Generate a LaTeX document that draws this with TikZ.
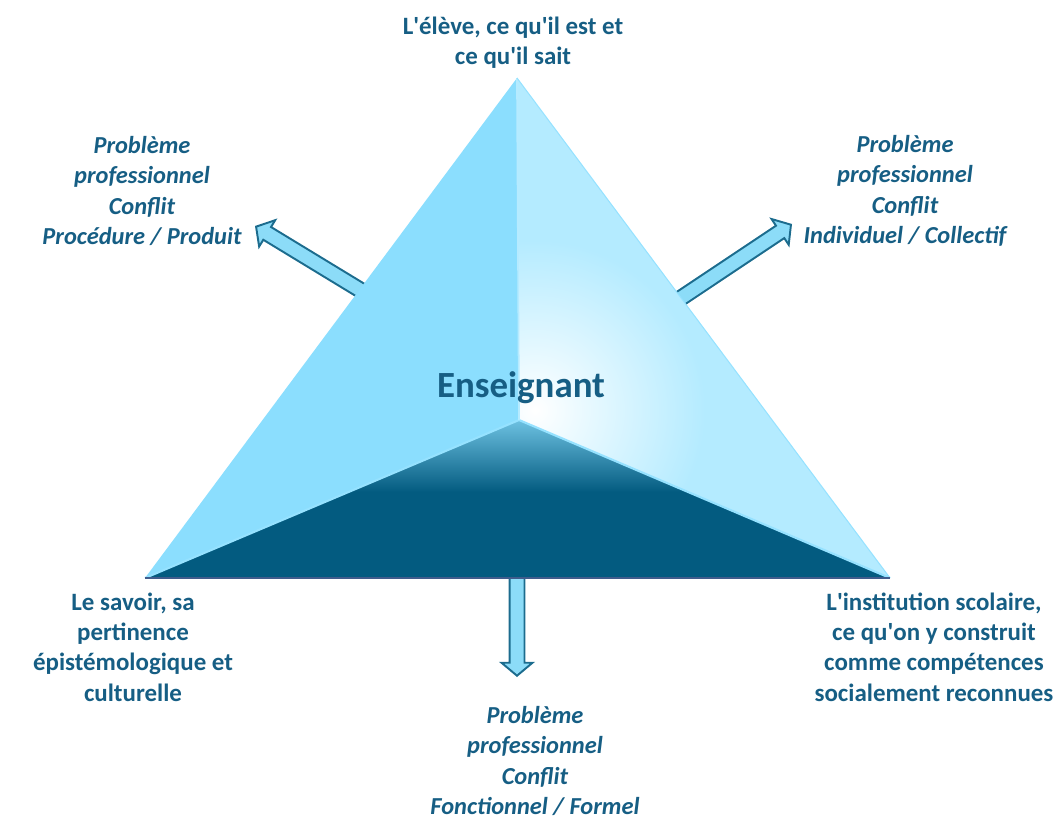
\documentclass[tikz,border=0pt]{standalone}
\usepackage{fontspec}
\setmainfont{Carlito}
\usepackage{tikz}
\usetikzlibrary{shapes.arrows}

\definecolor{schrift}{RGB}{22,94,132}
\definecolor{linksblau}{RGB}{139,222,254}
\definecolor{rechtsblau}{RGB}{180,235,255}
\definecolor{kante}{RGB}{150,226,255}
\definecolor{dunkelblau}{RGB}{3,91,128}
\definecolor{mittelblau}{RGB}{112,196,228}
\definecolor{grundlinie}{RGB}{64,92,140}
\definecolor{pfeilrand}{RGB}{28,108,142}
\definecolor{pfeilblau}{RGB}{140,220,248}

\tikzset{
    ecke/.style={font=\fontsize{14.2}{17.3}\selectfont\bfseries, text=schrift, align=center, inner sep=0pt},
    problem/.style={font=\fontsize{13.9}{17.3}\selectfont\bfseries\itshape, text=schrift, align=center, inner sep=0pt},
    pfeil/.style={single arrow, draw=pfeilrand, fill=pfeilblau, line width=1.1pt, inner xsep=0pt, inner ysep=.13cm,
        single arrow head extend=.16cm, single arrow tip angle=100, anchor=tip}
}

\begin{document}
\begin{tikzpicture}[x=.02cm, y=-.02cm, line width=1pt]
    \useasboundingbox (0,0) rectangle (1059,821);

    % Ecken.
    \coordinate (spitze) at (517,78);
    \coordinate (links) at (145,578);
    \coordinate (rechts) at (890,578);
    \coordinate (mitte) at (519,420);

    % Pfeile.
    \node[pfeil, rotate=148.7, minimum height=2.8cm] (pfeilLinks) at (255,226) {};
    \node[pfeil, rotate=33.7, minimum height=2.8cm] (pfeilRechts) at (792,224) {};
    \node[pfeil, rotate=-90, minimum height=2.3cm] (pfeilUnten) at (517,677) {};

    % Linke Fläche.
    \fill[linksblau] (spitze) -- (links) -- (mitte) -- cycle;

    % Rechte Fläche.
    \begin{scope}
        \clip (spitze) -- (rechts) -- (mitte) -- cycle;
        \fill[rechtsblau] (spitze) -- (rechts) -- (mitte) -- cycle;
        \shade[inner color=white, outer color=rechtsblau] (535,410) circle [radius=3.4cm];
    \end{scope}

    % Untere Fläche.
    \begin{scope}
        \clip (links) -- (rechts) -- (mitte) -- cycle;
        \fill[dunkelblau] (links) -- (rechts) -- (mitte) -- cycle;
        \shade[top color=mittelblau, bottom color=dunkelblau] (140,418) rectangle (900,492);
    \end{scope}

    % Kanten.
    \draw[kante, line width=1.2pt] (links) -- (mitte) -- (rechts);
    \draw[kante!70!white, line width=1pt] (spitze) -- (mitte);
    \draw[kante, line width=.6pt] (spitze) -- (rechts);
    \draw[grundlinie, line width=1.6pt] (links) -- (rechts);

    % Beschriftung.
    \node[font=\fontsize{21}{24}\selectfont\bfseries, text=schrift, inner sep=0pt] (lehrer) at (521,388) {Enseignant};
    \node[ecke] (eleve) at (513,43) {L\textquotesingle élève, ce qu\textquotesingle il est et\\ce qu\textquotesingle il sait};
    \node[ecke] (savoir) at (133,647) {Le savoir, sa\\pertinence\\épistémologique et\\culturelle};
    \node[ecke] (institution) at (934,647) {L\textquotesingle institution scolaire,\\ce qu\textquotesingle on y construit\\comme compétences\\socialement reconnues};
    \node[problem] (problemLinks) at (142,191) {Problème\\professionnel\\Conflit\\Procédure / Produit};
    \node[problem] (problemRechts) at (905,191) {Problème\\professionnel\\Conflit\\Individuel / Collectif};
    \node[problem] (problemUnten) at (535,761) {Problème\\professionnel\\Conflit\\Fonctionnel / Formel};
\end{tikzpicture}
\end{document}
